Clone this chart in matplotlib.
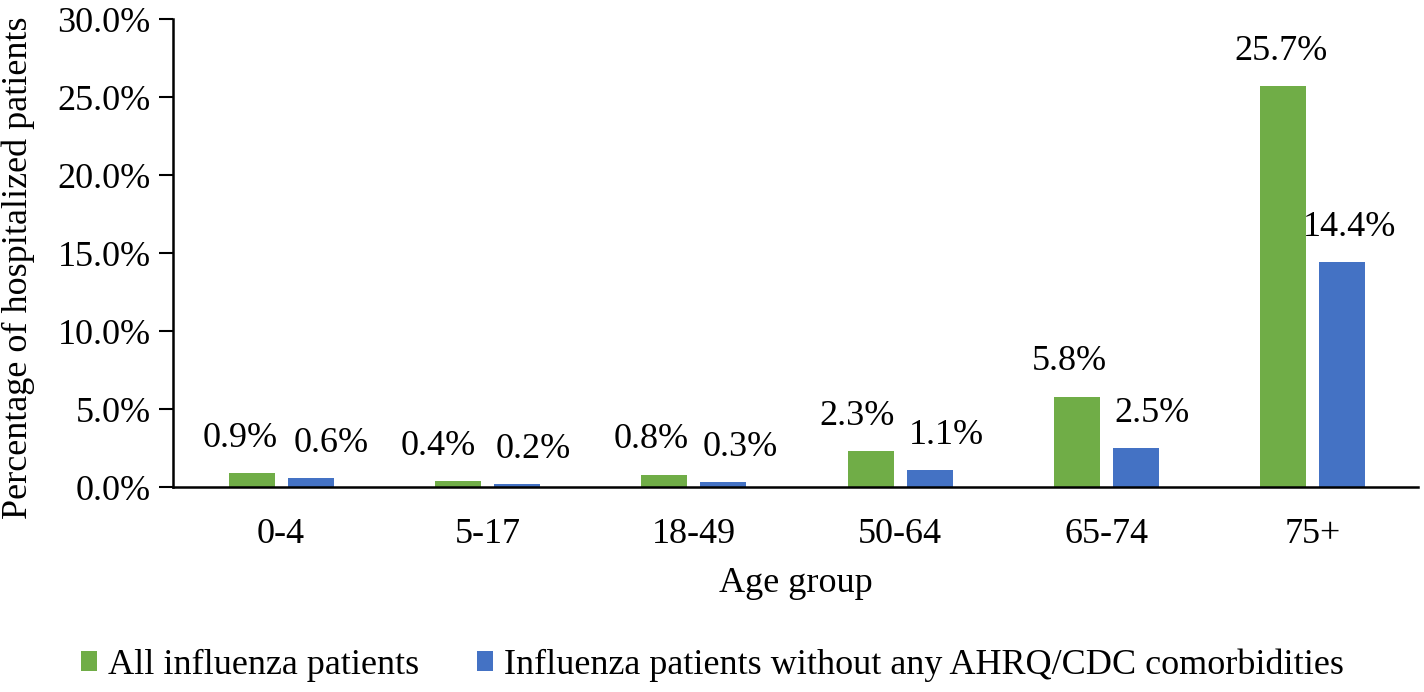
import matplotlib
matplotlib.use("Agg")
import matplotlib.pyplot as plt
import numpy as np
from matplotlib.ticker import FuncFormatter
from matplotlib.transforms import offset_copy

categories = ["0-4", "5-17", "18-49", "50-64", "65-74", "75+"]
all_patients = [0.9, 0.4, 0.8, 2.3, 5.8, 25.7]
no_comorb = [0.6, 0.2, 0.3, 1.1, 2.5, 14.4]
series_names = ["All influenza patients",
                "Influenza patients without any AHRQ/CDC comorbidities"]

plt.rcParams['font.family'] = ['Liberation Serif', 'DejaVu Serif']

fig = plt.figure(figsize=(14.24, 6.92), dpi=100)
W, H = 1424, 692
left, right, top, bottom = 173, 1418, 19, 487
ax = fig.add_axes([left / W, 1 - bottom / H, (right - left) / W, (bottom - top) / H])

green = "#70AD47"
blue = "#4472C4"
x = np.arange(len(categories))
bw = 0.223
gap = 0.063
off = (bw + gap) / 2
ax.bar(x - off, all_patients, bw, color=green, label=series_names[0])
ax.bar(x + off, no_comorb, bw, color=blue, label=series_names[1])

fs = 26
g_shift = [-11, -20, -13, -14, -8, -2]
b_shift = [21, 16, 17, 17, 16, 7]
for i in range(len(categories)):
    t = offset_copy(ax.transData, fig=fig, x=g_shift[i] * 0.72, y=13, units='points')
    ax.text(x[i] - off, all_patients[i], f"{all_patients[i]:.1f}%", transform=t,
            ha='center', va='bottom', fontsize=fs)
    t = offset_copy(ax.transData, fig=fig, x=b_shift[i] * 0.72, y=13, units='points')
    ax.text(x[i] + off, no_comorb[i], f"{no_comorb[i]:.1f}%", transform=t,
            ha='center', va='bottom', fontsize=fs)

ax.set_ylim(0, 30)
ax.set_yticks(np.arange(0, 30.1, 5))
ax.yaxis.set_major_formatter(FuncFormatter(lambda v, p: f"{v:.1f}%"))
ax.set_xlim(-0.524, 5.51)
ax.set_xticks(x)
ax.set_xticklabels(categories)
ax.tick_params(axis='x', length=0, labelsize=fs, pad=22)
ax.tick_params(axis='y', length=10, width=1.5, labelsize=fs, pad=6)
for s in ['top', 'right']:
    ax.spines[s].set_visible(False)
ax.spines['left'].set_linewidth(1.8)
ax.spines['bottom'].set_linewidth(1.8)

ax.set_xlabel("Age group", fontsize=fs, labelpad=12)
ax.set_ylabel("Percentage of hospitalized patients", fontsize=fs)
ax.yaxis.set_label_coords((35 - left) / (right - left), (bottom - 268) / (bottom - top))

fig.legend(loc='center', bbox_to_anchor=(712 / W, 1 - 665 / H), ncol=2, frameon=False,
           fontsize=fs, handlelength=0.45, handleheight=0.45, handletextpad=0.3,
           columnspacing=1.6)

fig.savefig("out.png", dpi=100)
